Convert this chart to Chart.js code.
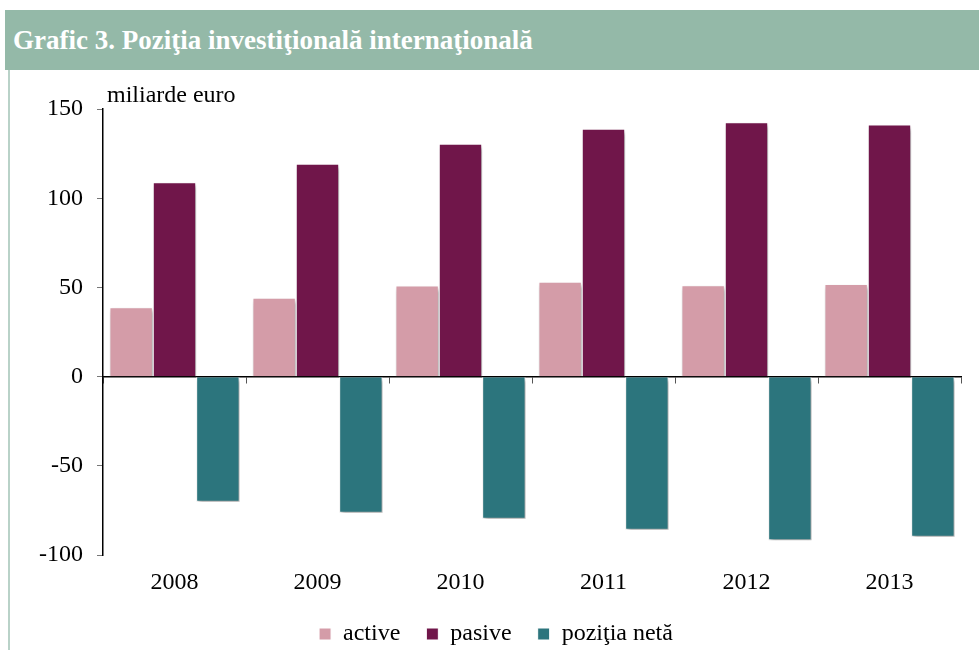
<!DOCTYPE html>
<html>
<head>
<meta charset="utf-8">
<script src="https://cdn.jsdelivr.net/npm/chart.js@4.4.1/dist/chart.umd.min.js"></script>
<style>
  html, body { margin:0; padding:0; background:#fff; width:979px; height:650px; overflow:hidden; }
  #header { position:absolute; left:5px; top:10px; width:974px; height:60px; background:#94b9a8;
            color:#fff; font:bold 27px 'Liberation Serif', serif; line-height:60px; padding-left:8px; box-sizing:border-box; }
  #leftLine { position:absolute; left:8px; top:70px; width:2px; height:580px; background:#b9d2c8; }
  #unit { position:absolute; left:107px; top:81px; font:24px 'Liberation Serif', serif; color:#000; }
  #wrap { position:absolute; left:0; top:70px; width:979px; height:586px; }
</style>
</head>
<body>
<div id="header">Grafic 3. Poziţia investiţională internaţională</div>
<div id="leftLine"></div>
<div id="wrap"><canvas id="c"></canvas></div>
<div id="unit">miliarde euro</div>
<script>
const YEARS  = ['2008','2009','2010','2011','2012','2013'];
const ACTIVE = [38.9, 44.2, 51.1, 53.2, 51.3, 51.9];
const PASIVE = [109, 119.3, 130.5, 139, 142.6, 141.3];
const NETA   = [-70, -76.2, -79.6, -85.8, -91.6, -89.6];
const Y_TICKS = { min:-100, max:150, step:50 };

const FONT = 'Liberation Serif';

const shadowPlugin = {
  id:'barShadow',
  beforeDatasetsDraw(chart) {
    const ctx = chart.ctx;
    ctx.save();
    ctx.shadowColor = 'rgba(0,0,0,0.35)';
    ctx.shadowBlur = 4;
    ctx.shadowOffsetX = 2;
    ctx.shadowOffsetY = 3;
  },
  afterDatasetsDraw(chart) { chart.ctx.restore(); }
};

const mk = (label, data, color) => ({
  label, data, backgroundColor: color, borderColor:'#ffffff', borderWidth:1,
  categoryPercentage:0.91, barPercentage:1.0,
});

new Chart(document.getElementById('c'), {
  type:'bar',
  data:{
    labels: YEARS,
    datasets:[
      mk('active', ACTIVE, '#d49ca8'),
      mk('pasive', PASIVE, '#70164a'),
      mk('poziţia netă', NETA, '#2c757d'),
    ]
  },
  plugins:[shadowPlugin],
  options:{
    responsive:true, maintainAspectRatio:false, animation:false,
    layout:{ padding:{ top:39, right:18, left:31, bottom:0 } },
    plugins:{
      tooltip:{ enabled:false },
      legend:{ position:'bottom',
        labels:{ boxWidth:12, boxHeight:12, padding:26, color:'#000', font:{ family:FONT, size:24 } } },
    },
    scales:{
      x:{
        position:{ y:0 },
        offset:true,
        grid:{ offset:true, drawOnChartArea:false, tickLength:6, color:'#555' },
        border:{ color:'#000', width:1.5 },
        ticks:{ display:false },
      },
      x2:{
        type:'category', position:'bottom', labels: YEARS, offset:true,
        grid:{ display:false, drawTicks:false },
        border:{ display:false },
        ticks:{ padding:13, color:'#000', font:{ family:FONT, size:24 } },
        afterFit(s){ s.height = s.height - 14; },
      },
      y:{
        min:Y_TICKS.min, max:Y_TICKS.max,
        grid:{ drawOnChartArea:false, tickLength:6, color:'#777' },
        border:{ color:'#000', width:1.5 },
        ticks:{ stepSize:Y_TICKS.step, padding:14, color:'#000', font:{ family:FONT, size:24 } },
        afterFit(s){ s.width = 72; },
      }
    }
  }
});
</script>
</body>
</html>
